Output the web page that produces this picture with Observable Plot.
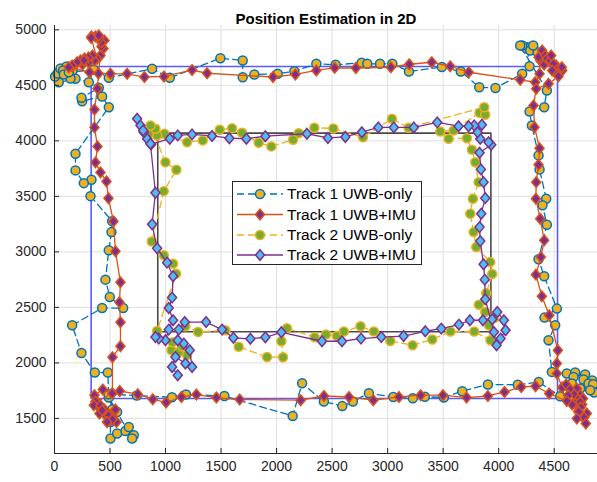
<!DOCTYPE html>
<html><head><meta charset="utf-8">
<script src="https://cdn.jsdelivr.net/npm/d3@7"></script>
<script src="https://cdn.jsdelivr.net/npm/@observablehq/plot@0.6"></script>
<style>
body{margin:0;background:#fff;}
#chart{width:597px;height:482px;}
</style></head><body><div id="chart"></div>
<script>
const title = "Position Estimation in 2D";
const seriesNames = ["Track 1 UWB-only", "Track 1 UWB+IMU", "Track 2 UWB-only", "Track 2 UWB+IMU"];
const xTicks = [0, 500, 1000, 1500, 2000, 2500, 3000, 3500, 4000, 4500];
const yTicks = [1500, 2000, 2500, 3000, 3500, 4000, 4500, 5000];

// reference rooms (rectangles)
const outerRoomX = [330, 4530, 4530, 330, 330];
const outerRoomY = [1680, 1680, 4670, 4670, 1680];
const innerRoomX = [930, 3930, 3930, 930, 930];
const innerRoomY = [2280, 2280, 4070, 4070, 2280];

// Track 1 UWB-only
const track1UwbX = [504,564,504,504,564,639,669,714,699,
 489,480,363,243,159,429,618,498,459,489,513,519,324,333,264,189,189,489,429,249,243,399,309,189,39,5,27,54,108,162,144,78,84,129,354,489,
 879,1038,1494,1695,1695,1800,2010,2160,2358,2532,2766,2817,2931,3042,3192,3488,3659,3825,3971,4212,
 4278,4257,4248,4212,4284,4350,4311,4194,
 4434,4410,4278,4299,4359,4368,4428,4395,4434,4359,4410,4524,4413,4509,4449,4479,
 4614,4689,4674,4779,4764,4842,4809,4851,4860,4824,4734,4659,4554,
 4361,4172,3903,3672,3506,3335,3227,3051,2831,2687,2592,2426,2230,2145,1530,1184,1058,741,486,522];
const track1UwbY = [1558,1558,1468,1319,1364,1387,1423,1349,1319,
 1688,1913,1913,2089,2339,2494,2494,2593,2750,3014,3178,3277,3502,3650,3619,3734,3884,4303,4400,4357,4388,4478,4528,4559,4528,4580,4607,4652,4670,4634,4562,4634,4598,4618,4640,4568,
 4649,4568,4744,4724,4573,4598,4604,4627,4694,4685,4703,4694,4694,4694,4625,4665,4625,4483,4476,4604,
 4672,4843,4834,4859,4814,4798,4859,4859,
 4454,4303,4265,4139,3869,3743,3479,3419,3245,2933,2780,2489,2408,2339,2204,1919,
 1904,1913,1873,1895,1850,1841,1814,1808,1733,1754,1769,1814,1700,
 1828,1803,1806,1745,1689,1695,1682,1693,1727,1652,1611,1652,1817,1522,1702,1716,1691,1706,1718,1583];

// Track 1 UWB+IMU
const track1ImuX = [504,531,474,558,450,400,520,380,522,522,594,594,585,594,549,531,486,468,414,369,387,360,360,387,396,
 414,441,450,423,423,405,369,333,399,330,384,360,306,252,342,306,270,234,198,162,264,204,159,129,
 315,504,654,810,986,1239,1374,1968,2169,2358,2523,2714,3029,3195,3398,3564,3731,4194,
 4329,4368,4374,4359,4410,4392,4419,4434,4464,4473,4518,4494,4572,4569,4482,4527,4539,4449,4338,
 4314,4323,4368,4359,4338,4335,4374,4410,4380,4335,4389,4455,4533,4524,4524,
 4572,4608,4704,4644,4734,4680,4760,4716,4689,4752,4734,4662,4740,4716,4794,4720,4770,4704,4785,4626,4614,4455,
 4332,4203,4053,3903,3711,3498,3297,3102,2871,2652,2427,2217,1668,1458,1278,1143,1005,885,750,588,519,435,360,369,354,414,405,450,549,429,486,522,474];
const track1ImuY = [1484,1556,1468,1468,1540,1600,1520,1650,1727,2051,2150,2366,2546,2726,3005,3275,3482,3635,3716,3806,3950,4121,4283,4472,4607,
 4769,4832,4904,4850,4886,4922,4940,4940,4949,4928,4739,4724,4706,4688,4769,4751,4742,4724,4697,4670,4724,4708,4679,4663,
 4618,4604,4604,4575,4580,4638,4609,4575,4598,4634,4658,4656,4663,4690,4708,4672,4618,4550,
 4528,4604,4724,4753,4688,4814,4769,4739,4724,4769,4679,4694,4634,4663,4634,4598,4582,4514,4469,
 4319,4123,3934,3785,3628,3479,3299,3104,2953,2795,2600,2429,2114,1994,1904,
 1778,1805,1769,1760,1709,1715,1680,1670,1634,1625,1648,1625,1600,1562,1544,1560,1508,1499,1454,1706,1657,1724,
 1790,1783,1738,1702,1688,1709,1709,1693,1664,1693,1702,1664,1670,1688,1715,1693,1643,1673,1718,1747,1724,1760,1709,1652,1619,1616,1544,1580,1580,1574,1526,1490,1468];

// Track 2 UWB-only
const track2UwbX = [1053,1119,1194,1149,1062,
 1179,1293,1539,1659,1914,2058,2043,2093,2343,2445,2543,2606,2756,2876,3024,3225,3402,3566,3780,3926,3912,3960,3879,
 3821,3888,3942,3924,3798,3774,3744,3768,3819,3789,3759,3714,3549,3474,3594,3828,3879,3870,
 3189,3039,2778,2511,2340,2199,2148,1953,1839,1689,1599,1488,1335,1194,990,924,849,909,864,
 999,1098,984,876,984,1068,1095,924];
const track2UwbY = [2114,2098,2069,2150,2187,
 2330,2278,2294,2145,2053,2051,2195,2312,2231,2256,2242,2283,2330,2283,2197,2159,2211,2283,2283,2204,2339,2404,2458,
 2523,2627,2800,2908,3043,3178,3344,3479,3628,3808,3920,4024,4019,4085,4094,4253,4235,4303,
 4118,4199,4033,4112,4118,4069,4010,3950,3983,4073,4114,4100,4004,3988,4064,4049,4064,4109,4139,
 3808,3740,3547,3093,2969,2894,2804,2288];

// Track 2 UWB+IMU
const track2ImuX = [1110,1059,1089,1179,1239,1218,1164,1110,1119,1173,1365,1509,1611,1764,1899,2043,2409,2589,2760,2943,3144,3339,3483,3642,3741,3858,3942,
 3987,4047,4062,4017,3981,3957,
 3879,3875,3864,3834,3828,3843,3879,3864,3840,3828,3933,3909,3834,3810,3849,3780,3729,3639,3447,3236,3056,2916,2768,2619,2462,2273,1899,1728,1575,1419,1239,1110,1038,
 870,834,804,774,744,798,864,909,879,924,1014,1068,1059,1029,1068,1029,999,939,909];
const track2ImuY = [1889,1963,2053,1994,1963,2114,2174,2204,2300,2368,2368,2300,2226,2217,2231,2276,2195,2195,2219,2233,2242,2285,2309,2345,2384,2384,2393,
 2458,2384,2294,2219,2159,2278,
 2573,2750,2888,3097,3223,3344,3484,3628,3743,3893,3965,3988,4019,4078,4145,4139,4132,4132,4166,4121,4121,4121,4078,4035,4026,4064,4042,4019,4024,4044,4058,4049,4019,
 3968,4019,4078,4139,4199,4094,3974,3533,3248,3032,2903,2780,2588,2494,2384,2300,2204,2219,2233];

const zip = (xs, ys) => xs.map((x, i) => ({x, y: ys[i]}));
const outerRoom = zip(outerRoomX, outerRoomY);
const innerRoom = zip(innerRoomX, innerRoomY);
const t1u = zip(track1UwbX, track1UwbY);
const t1i = zip(track1ImuX, track1ImuY);
const t2u = zip(track2UwbX, track2UwbY);
const t2i = zip(track2ImuX, track2ImuY);

const C = {blue:"#0072BD", orange:"#D95319", yellow:"#EDB120", purple:"#7E2F8E", green:"#77AC30", cyan:"#4DBEEE"};
const diamond = {draw(ctx, size){ const r = Math.sqrt(size/Math.PI); const h = r*1.15, w = r*0.98;
  ctx.moveTo(0,-h); ctx.lineTo(w,0); ctx.lineTo(0,h); ctx.lineTo(-w,0); ctx.closePath(); }};

const styles = [
  {data:t1u, line:C.blue, dash:"7,4", face:C.yellow, edge:C.blue, symbol:"circle", r:4.5},
  {data:t1i, line:C.orange, dash:null, face:C.purple, edge:C.orange, symbol:diamond, r:4.6},
  {data:t2u, line:C.yellow, dash:"7,4", face:C.green, edge:C.yellow, symbol:"circle", r:4.5},
  {data:t2i, line:C.purple, dash:null, face:C.cyan, edge:C.purple, symbol:diamond, r:4.6}
];

const font = '"Liberation Sans", Arial, Helvetica, sans-serif';
const seriesMarks = styles.flatMap(s => [
  Plot.line(s.data, {x:"x", y:"y", stroke:s.line, strokeWidth:1.3, strokeDasharray:s.dash || undefined}),
  Plot.dot(s.data, {x:"x", y:"y", r:s.r, symbol:s.symbol, fill:s.face, stroke:s.edge, strokeWidth:1.5})
]);

const W = 597, H = 482, mL = 54, mR = 0, mT = 25, mB = 29;
const plot = Plot.plot({
  width: W, height: H, marginLeft: mL, marginRight: mR, marginTop: mT, marginBottom: mB,
  x: {domain: [0, 4890], label: null},
  y: {domain: [1184, 5039], label: null},
  style: {fontFamily: font, fontSize: "14px", color: "#262626", background: "white", overflow: "visible"},
  marks: [
    Plot.gridX(xTicks, {stroke: "#dfdfdf", strokeOpacity: 1}),
    Plot.gridY(yTicks, {stroke: "#dfdfdf", strokeOpacity: 1}),
    Plot.line(outerRoom, {x:"x", y:"y", stroke:"#5a5aff", strokeWidth:1.6}),
    Plot.line(innerRoom, {x:"x", y:"y", stroke:"#4a4a4a", strokeWidth:1.6}),
    ...seriesMarks,
    Plot.ruleX([0], {stroke:"#262626"}),
    Plot.ruleY([1184], {stroke:"#262626"}),
    Plot.tickY(yTicks, {y: d => d, insetRight: W - mL - mR - 5, stroke:"#262626"}),
    Plot.tickX(xTicks, {x: d => d, insetTop: H - mT - mB - 5, stroke:"#262626"}),
    Plot.axisX(xTicks, {tickSize: 0, tickPadding: 8, fontSize: 14, fill:"#262626", tickFormat: d => String(d), label: null}),
    Plot.axisY(yTicks, {tickSize: 0, tickPadding: 8, fontSize: 14, fill:"#262626", tickFormat: d => String(d), label: null}),
    Plot.text([title], {frameAnchor: "top", dy: -12, fontWeight: "bold", fontSize: 15, fill: "#000"})
  ]
});
document.getElementById("chart").appendChild(plot);

// legend box
const svg = d3.select(plot);
const lg = svg.append("g").attr("font-family", font).attr("font-size", 15.5).attr("text-anchor", "start");
lg.append("rect").attr("x", 232.5).attr("y", 181.5).attr("width", 189).attr("height", 83)
  .attr("fill", "white").attr("stroke", "#262626").attr("stroke-width", 1);
const rowsY = [194, 214.5, 235, 255];
styles.forEach((s, i) => {
  const y = rowsY[i];
  lg.append("line").attr("x1", 237).attr("x2", 283).attr("y1", y).attr("y2", y)
    .attr("stroke", s.line).attr("stroke-width", 1.3).attr("stroke-dasharray", s.dash || null);
  const sym = typeof s.symbol === "string" ? d3.symbolCircle : s.symbol;
  lg.append("path").attr("d", d3.symbol(sym, Math.PI * s.r * s.r)())
    .attr("transform", `translate(260,${y})`)
    .attr("fill", s.face).attr("stroke", s.edge).attr("stroke-width", 1.5);
  lg.append("text").attr("x", 287).attr("y", y).attr("dy", "0.35em").attr("text-anchor", "start")
    .attr("fill", "#000").text(seriesNames[i]);
});
</script></body></html>
